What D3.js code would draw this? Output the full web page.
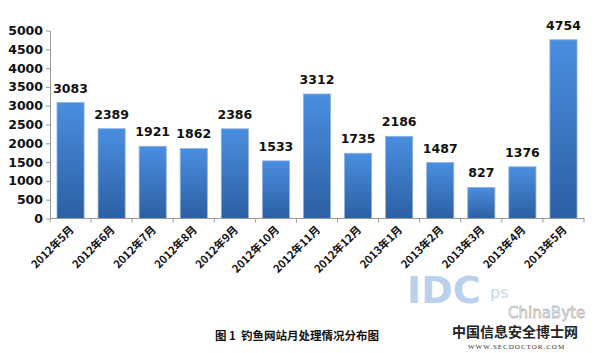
<!DOCTYPE html>
<meta charset='utf-8'>
<html>
<head>
    <script src='https://d3js.org/d3.v7.min.js'></script>
    <style>
        html, body { margin: 0; padding: 0; background: #fff; }
        svg { display: block; font-family: 'Noto Sans CJK SC', 'DejaVu Sans', sans-serif; }
    </style>
</head>
<body>
<script>
    const width = 602;
    const height = 353;

    // chart data
    const months = ['2012年5月', '2012年6月', '2012年7月', '2012年8月', '2012年9月', '2012年10月',
        '2012年11月', '2012年12月', '2013年1月', '2013年2月', '2013年3月', '2013年4月', '2013年5月'];
    const counts = [3083, 2389, 1921, 1862, 2386, 1533, 3312, 1735, 2186, 1487, 827, 1376, 4754];
    const yTicks = [0, 500, 1000, 1500, 2000, 2500, 3000, 3500, 4000, 4500, 5000];
    const caption = '图 1  钓鱼网站月处理情况分布图';

    const svg = d3.select('body').append('svg')
        .attr('width', width)
        .attr('height', height);

    // bar gradient
    const defs = svg.append('defs');
    const grad = defs.append('linearGradient')
        .attr('id', 'barGrad')
        .attr('x1', 0).attr('y1', 0).attr('x2', 0).attr('y2', 1);
    grad.append('stop').attr('offset', '0%').attr('stop-color', '#4a8ee0');
    grad.append('stop').attr('offset', '100%').attr('stop-color', '#2c5fa3');

    const x = d3.scaleBand()
        .domain(months)
        .range([50, 584])
        .paddingInner(0.34)
        .paddingOuter(0.17);

    const y = d3.scaleLinear()
        .domain([0, 5000])
        .range([218.5, 30.5]);

    // y axis
    const yAxis = svg.append('g')
        .attr('transform', 'translate(50,0)')
        .call(d3.axisLeft(y).tickValues(yTicks).tickFormat(d3.format('d')).tickSize(4).tickSizeOuter(0));
    yAxis.select('.domain').attr('stroke', '#999');
    yAxis.selectAll('.tick line').attr('stroke', '#999');
    yAxis.selectAll('text')
        .attr('x', -7)
        .style('font-size', '12.5px')
        .style('font-weight', 'bold')
        .style('font-family', 'DejaVu Sans, sans-serif')
        .attr('fill', '#111');

    // bars
    svg.append('g')
        .selectAll('rect')
        .data(counts)
        .enter()
        .append('rect')
        .attr('x', function (d, i) { return x(months[i]); })
        .attr('y', function (d) { return y(d); })
        .attr('width', x.bandwidth())
        .attr('height', function (d) { return y(0) - y(d); })
        .attr('fill', 'url(#barGrad)')
        .attr('stroke', '#8fb3de')
        .attr('stroke-width', 0.8);

    // value labels
    svg.append('g')
        .selectAll('text')
        .data(counts)
        .enter()
        .append('text')
        .attr('x', function (d, i) { return x(months[i]) + x.bandwidth() / 2; })
        .attr('y', function (d) { return y(d) - 10; })
        .attr('text-anchor', 'middle')
        .style('font-size', '12.5px')
        .style('font-weight', 'bold')
        .style('font-family', 'DejaVu Sans, sans-serif')
        .attr('fill', '#111')
        .text(function (d) { return d; });

    // x axis
    const xEdges = d3.range(months.length + 1).map(function (i) {
        return 50 + i * (534 / months.length);
    });
    const xAxis = svg.append('g');
    xAxis.append('line')
        .attr('x1', 50).attr('x2', 584)
        .attr('y1', y(0)).attr('y2', y(0))
        .attr('stroke', '#999');
    xAxis.selectAll('line.tk')
        .data(xEdges)
        .enter()
        .append('line')
        .attr('class', 'tk')
        .attr('x1', function (d) { return d; })
        .attr('x2', function (d) { return d; })
        .attr('y1', y(0)).attr('y2', y(0) + 4)
        .attr('stroke', '#999');
    xAxis.selectAll('text')
        .data(months)
        .enter()
        .append('text')
        .attr('transform', function (d) {
            return 'translate(' + (x(d) + x.bandwidth() / 2 + 4) + ',' + (y(0) + 12) + ') rotate(-45)';
        })
        .attr('text-anchor', 'end')
        .style('font-size', '11px')
        .style('font-weight', 'bold')
        .attr('fill', '#111')
        .text(function (d) { return d; });

    // caption
    svg.append('text')
        .attr('x', 215)
        .attr('y', 340)
        .style('font-size', '11.5px')
        .style('font-weight', 'bold')
        .style('white-space', 'pre')
        .attr('fill', '#111')
        .text(caption);

    // watermark
    svg.append('text')
        .attr('x', 407).attr('y', 303)
        .style('font-size', '38px')
        .style('font-weight', 'bold')
        .style('font-family', 'DejaVu Sans, sans-serif')
        .attr('fill', '#a9c6e8')
        .attr('opacity', 0.8)
        .text('IDC');
    svg.append('text')
        .attr('x', 490).attr('y', 298)
        .style('font-size', '16px')
        .style('font-family', 'DejaVu Sans, sans-serif')
        .attr('fill', '#c9d6e6')
        .text('ps');
    svg.append('text')
        .attr('x', 508).attr('y', 318)
        .style('font-size', '15px')
        .style('font-family', 'DejaVu Sans, sans-serif')
        .attr('fill', '#fff')
        .attr('stroke', '#bbb')
        .attr('stroke-width', 0.8)
        .text('ChinaByte');
    svg.append('text')
        .attr('x', 452).attr('y', 337)
        .style('font-size', '14px')
        .style('font-weight', 'bold')
        .attr('fill', '#222')
        .text('中国信息安全博士网');
    svg.append('text')
        .attr('x', 468).attr('y', 349)
        .style('font-size', '7px')
        .style('font-family', 'Liberation Serif, serif')
        .style('letter-spacing', '1px')
        .attr('fill', '#333')
        .text('WWW.SECDOCTOR.COM');
</script>
</body>
</html>
